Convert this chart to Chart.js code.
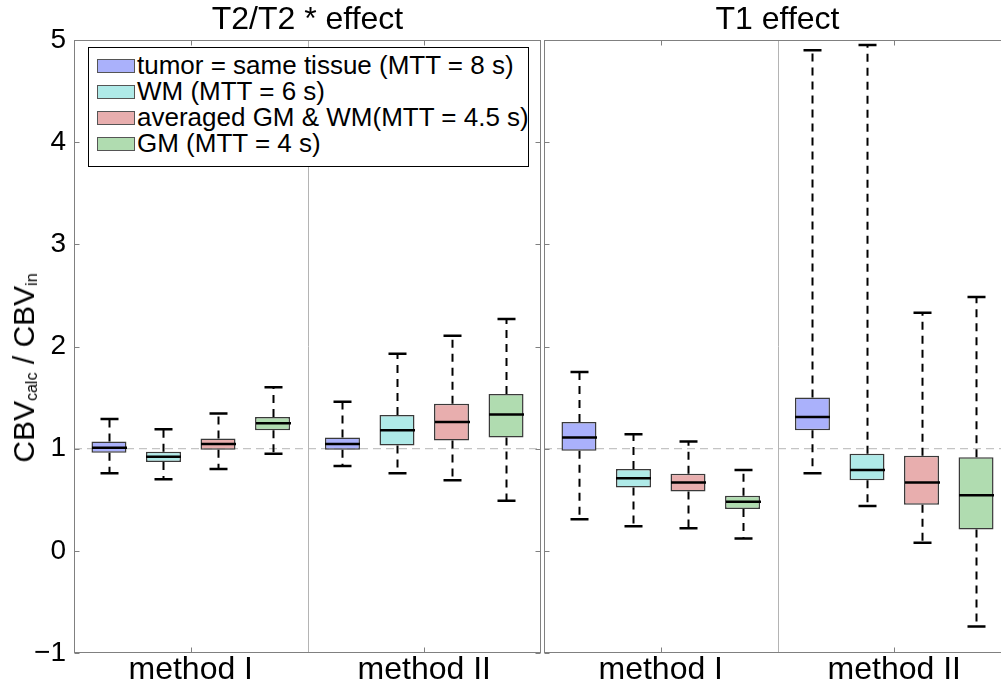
<!DOCTYPE html>
<html>
<head>
<meta charset="utf-8">
<script src="https://cdn.jsdelivr.net/npm/chart.js@4.4.0/dist/chart.umd.min.js"></script>
<style>
    body { margin: 0; background: #fff; overflow: hidden; font-family: "Liberation Sans", Arial, sans-serif; }
    #wrap { position: relative; width: 1001px; height: 686px; overflow: hidden; }
    #leftChart { position: absolute; left: 0; top: 0; }
    #rightChart { position: absolute; left: 543px; top: 0; }
    #yTitle {
        position: absolute; left: 24px; top: 368px; white-space: nowrap;
        transform: translate(-50%, -50%) rotate(-90deg);
        font-size: 30px; color: #000;
    }
    #yTitle sub { font-size: 16px; vertical-align: -3px; }
    #legend {
        position: absolute; left: 88px; top: 47px; width: 439px; height: 116px;
        border: 1px solid #000; background: #fff; padding-top: 4px; box-sizing: content-box;
    }
    #legend { height: 114px; }
    .row { height: 26px; line-height: 26px; font-size: 26px; color: #000; white-space: nowrap; }
    .sw { display: inline-block; width: 36px; height: 12px; border: 1px solid #555; margin: 0 2px 0 8px; vertical-align: 1px; }
</style>
</head>
<body>
<div id="wrap">
    <canvas id="leftChart" width="543" height="686"></canvas>
    <canvas id="rightChart" width="470" height="686"></canvas>
    <div id="yTitle">CBV<sub>calc</sub> / CBV<sub>in</sub></div>
    <div id="legend"></div>
</div>
<script>
'use strict';

// categories and series
let methods = ['method I', 'method II'];
let seriesNames = [
    'tumor = same tissue (MTT = 8 s)',
    'WM (MTT = 6 s)',
    'averaged GM & WM(MTT = 4.5 s)',
    'GM (MTT = 4 s)'
];
let seriesColors = ['#aab1fb', '#afeae8', '#e8aeae', '#b0dcb0'];
let yTicks = [-1, 0, 1, 2, 3, 4, 5];

// box stats per method: [lower whisker, q1, median, q3, upper whisker]
let t2Tumor = [[0.76, 0.96, 1.01, 1.07, 1.29], [0.83, 0.99, 1.045, 1.11, 1.46]];
let t2WM    = [[0.70, 0.87, 0.92, 0.97, 1.19], [0.76, 1.03, 1.18, 1.33, 1.93]];
let t2Avg   = [[0.80, 0.99, 1.045, 1.10, 1.345], [0.69, 1.08, 1.26, 1.44, 2.105]];
let t2GM    = [[0.95, 1.18, 1.25, 1.31, 1.60], [0.49, 1.11, 1.335, 1.535, 2.27]];

let t1Tumor = [[0.31, 0.98, 1.11, 1.26, 1.75], [0.76, 1.18, 1.31, 1.50, 4.90]];
let t1WM    = [[0.24, 0.62, 0.71, 0.80, 1.14], [0.44, 0.69, 0.79, 0.95, 4.95]];
let t1Avg   = [[0.22, 0.58, 0.67, 0.755, 1.07], [0.08, 0.45, 0.67, 0.93, 2.33]];
let t1GM    = [[0.12, 0.41, 0.48, 0.54, 0.79], [-0.74, 0.21, 0.545, 0.915, 2.485]];

let legendEl = document.getElementById('legend');
seriesNames.forEach((name, i) => {
    let row = document.createElement('div');
    row.className = 'row';
    row.innerHTML = `<span class="sw" style="background:${seriesColors[i]}"></span>${name.replace('&', '&amp;')}`;
    legendEl.append(row);
});

let boxPlugin = {
    id: 'boxDecor',
    beforeDatasetsDraw(chart) {
        let ctx = chart.ctx;
        let area = chart.chartArea;
        let y = chart.scales.y;
        ctx.save();
        // reference line at 1
        ctx.strokeStyle = '#c4c4c4';
        ctx.lineWidth = 1.3;
        ctx.setLineDash([8, 5]);
        ctx.beginPath();
        ctx.moveTo(area.left, y.getPixelForValue(1));
        ctx.lineTo(area.right, y.getPixelForValue(1));
        ctx.stroke();
        // divider between methods
        ctx.setLineDash([]);
        ctx.strokeStyle = '#b4b4b4';
        ctx.lineWidth = 1;
        let mid = Math.round((area.left + area.right) / 2) + 0.5;
        ctx.beginPath();
        ctx.moveTo(mid, area.top);
        ctx.lineTo(mid, area.bottom);
        ctx.stroke();
        ctx.restore();
    },
    afterDatasetsDraw(chart) {
        let ctx = chart.ctx;
        let y = chart.scales.y;
        let stats = chart.options.plugins.boxDecor.stats;
        ctx.save();
        ctx.strokeStyle = '#000';
        stats.forEach((set, i) => {
            let meta = chart.getDatasetMeta(i);
            meta.data.forEach((bar, j) => {
                let s = set[j];
                let x = Math.round(bar.x) + 0.5;
                let half = bar.width / 2;
                // median
                ctx.setLineDash([]);
                ctx.lineWidth = 2.5;
                ctx.beginPath();
                ctx.moveTo(x - half, y.getPixelForValue(s[2]));
                ctx.lineTo(x + half, y.getPixelForValue(s[2]));
                ctx.stroke();
                // whiskers
                ctx.lineWidth = 2;
                ctx.setLineDash([8, 6]);
                ctx.beginPath();
                ctx.moveTo(x, y.getPixelForValue(s[3]));
                ctx.lineTo(x, y.getPixelForValue(s[4]));
                ctx.moveTo(x, y.getPixelForValue(s[1]));
                ctx.lineTo(x, y.getPixelForValue(s[0]));
                ctx.stroke();
                // caps
                ctx.setLineDash([]);
                ctx.lineWidth = 2.5;
                ctx.beginPath();
                ctx.moveTo(x - 9, y.getPixelForValue(s[4]));
                ctx.lineTo(x + 9, y.getPixelForValue(s[4]));
                ctx.moveTo(x - 9, y.getPixelForValue(s[0]));
                ctx.lineTo(x + 9, y.getPixelForValue(s[0]));
                ctx.stroke();
            });
        });
        ctx.restore();
    },
    afterDraw(chart) {
        let ctx = chart.ctx;
        let area = chart.chartArea;
        let x = chart.scales.x;
        let y = chart.scales.y;
        let l = Math.round(area.left) + 0.5;
        let r = Math.round(area.right) - 0.5;
        let t = Math.round(area.top) + 0.5;
        let b = Math.round(area.bottom) - 0.5;
        ctx.save();
        ctx.strokeStyle = '#808080';
        ctx.lineWidth = 1;
        ctx.strokeRect(l, t, r - l, b - t);
        ctx.beginPath();
        yTicks.forEach(v => {
            let py = Math.round(y.getPixelForValue(v)) + 0.5;
            ctx.moveTo(l, py); ctx.lineTo(l + 5, py);
            ctx.moveTo(r, py); ctx.lineTo(r - 5, py);
        });
        methods.forEach((m, i) => {
            let px = Math.round(x.getPixelForValue(i)) + 0.5;
            ctx.moveTo(px, t); ctx.lineTo(px, t + 5);
            ctx.moveTo(px, b); ctx.lineTo(px, b - 5);
        });
        ctx.stroke();
        ctx.fillStyle = '#000';
        ctx.font = '32px "Liberation Sans", Arial, sans-serif';
        ctx.textAlign = 'center';
        ctx.textBaseline = 'middle';
        ctx.fillText(chart.options.plugins.boxDecor.title, (area.left + area.right) / 2, 20);
        ctx.restore();
    }
};

let makePanel = function (canvasId, title, stats, showY, pad) {
    let datasets = stats.map((set, i) => ({
        label: seriesNames[i],
        data: set.map(s => [s[1], s[3]]),
        backgroundColor: seriesColors[i],
        borderColor: '#3a3a3a',
        borderWidth: 1.5,
        borderSkipped: false,
        categoryPercentage: 0.934,
        barPercentage: 0.642
    }));
    let yScale = {
        display: showY,
        min: -1,
        max: 5,
        grid: { display: false, drawTicks: false },
        border: { display: false },
        ticks: {
            stepSize: 1,
            color: '#000',
            padding: 8,
            font: { size: 28, family: '"Liberation Sans", Arial, sans-serif' },
            callback: v => v < 0 ? '\u2212' + (-v) : v
        }
    };
    if (showY) {
        yScale.afterFit = s => { s.width = 74; };
    }
    return new Chart(document.getElementById(canvasId).getContext('2d'), {
        type: 'bar',
        data: { labels: methods, datasets: datasets },
        options: {
            responsive: false,
            animation: false,
            layout: { padding: pad },
            plugins: {
                legend: { display: false },
                tooltip: { enabled: false },
                boxDecor: { title: title, stats: stats }
            },
            scales: {
                x: {
                    grid: { display: false, drawTicks: false },
                    border: { display: false },
                    ticks: { color: '#000', font: { size: 32, lineHeight: 1, family: '"Liberation Sans", Arial, sans-serif' }, padding: 1 },
                    afterFit: s => { s.height = 33; }
                },
                y: yScale
            }
        },
        plugins: [boxPlugin]
    });
};

makePanel('leftChart', 'T2/T2 * effect', [t2Tumor, t2WM, t2Avg, t2GM], true, { top: 40, left: 0, right: 2, bottom: 0 });
makePanel('rightChart', 'T1 effect', [t1Tumor, t1WM, t1Avg, t1GM], false, { top: 40, left: 1, right: 2, bottom: 0 });
</script>
</body>
</html>
